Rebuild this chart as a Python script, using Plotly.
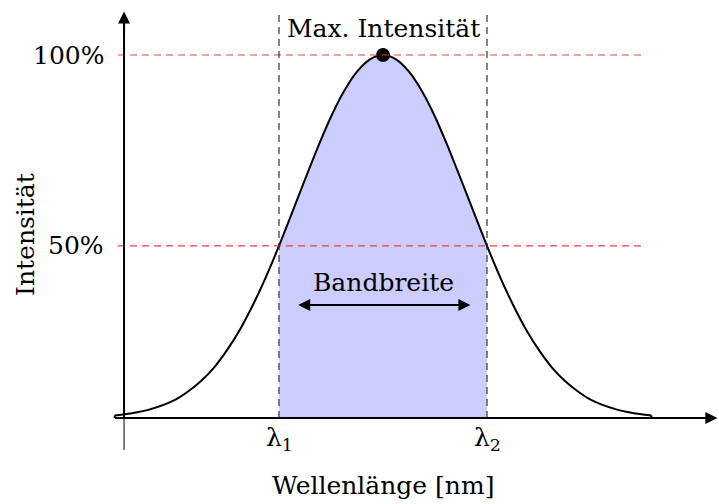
import plotly.graph_objects as go

# Data; x in units where lambda1=-1, lambda2=+1, peak at 0
wavelength = [-2.58, -2.4, -2.25, -2.0, -1.875, -1.75, -1.625, -1.5, -1.375, -1.25, -1.125,
              -1.0, -0.875, -0.75, -0.625, -0.5, -0.375, -0.25, -0.125, 0.0,
              0.125, 0.25, 0.375, 0.5, 0.625, 0.75, 0.875, 1.0,
              1.125, 1.25, 1.375, 1.5, 1.625, 1.75, 1.875, 2.0, 2.25, 2.4, 2.58]
intensity = [0.007, 0.014, 0.023, 0.050, 0.073, 0.102, 0.139, 0.187, 0.244, 0.312, 0.389,
             0.474, 0.565, 0.657, 0.747, 0.830, 0.900, 0.954, 0.988, 1.0,
             0.988, 0.954, 0.900, 0.830, 0.747, 0.657, 0.565, 0.474,
             0.389, 0.312, 0.244, 0.187, 0.139, 0.102, 0.073, 0.050, 0.023, 0.014, 0.007]
lambda1, lambda2 = -1.0, 1.0
peak_x, peak_y = 0.0, 1.0
half_level = 0.474
tick_vals = [1.0, half_level]
tick_text = ["100%", "50%"]
x_labels = ["λ<sub>1</sub>", "λ<sub>2</sub>"]

FONT = "DejaVu Serif"
FS = 25

band_x = [x for x in wavelength if lambda1 <= x <= lambda2]
band_y = [y for x, y in zip(wavelength, intensity) if lambda1 <= x <= lambda2]

fig = go.Figure()
# filled band
fig.add_trace(go.Scatter(x=band_x, y=band_y, mode="lines",
                         line=dict(color="rgba(0,0,0,0)", shape="spline", smoothing=0.8),
                         fill="tozeroy", fillcolor="#ccccff", hoverinfo="skip", showlegend=False))
# curve
fig.add_trace(go.Scatter(x=wavelength, y=intensity, mode="lines",
                         line=dict(color="black", width=2, shape="spline", smoothing=0.8),
                         hoverinfo="skip", showlegend=False))
# closing ends of the curve down to the baseline
for i in (0, -1):
    fig.add_trace(go.Scatter(x=[wavelength[i], wavelength[i]], y=[intensity[i], 0], mode="lines",
                             line=dict(color="black", width=2), hoverinfo="skip", showlegend=False))
# peak marker
fig.add_trace(go.Scatter(x=[peak_x], y=[peak_y], mode="markers",
                         marker=dict(color="black", size=14), showlegend=False))

x_min, x_max = -3.6827, 3.2308
y_min, y_max = -0.2369, 1.1515
yaxis_x = -2.49
top_y = 1.116

shapes = []
# red dashed horizontal lines
for v in tick_vals:
    shapes.append(dict(type="line", x0=-2.548, x1=2.519, y0=v, y1=v,
                       line=dict(color="#ee4040", width=1.2, dash="7px,5px")))
# black dashed vertical lines
for lx in (lambda1, lambda2):
    shapes.append(dict(type="line", x0=lx, x1=lx, y0=0, y1=top_y,
                       line=dict(color="#222222", width=1.1, dash="7px,5px")))
# axes
shapes.append(dict(type="line", x0=yaxis_x, x1=yaxis_x, y0=-0.088, y1=0,
                   line=dict(color="black", width=1)))
shapes.append(dict(type="line", x0=-2.577, x1=3.19, y0=0, y1=0,
                   line=dict(color="black", width=2)))
shapes.append(dict(type="line", x0=yaxis_x, x1=yaxis_x, y0=0, y1=1.10,
                   line=dict(color="black", width=2)))

annotations = []
# axis arrows
annotations.append(dict(x=yaxis_x, y=1.12, ax=yaxis_x, ay=1.05, xref="x", yref="y", axref="x", ayref="y",
                        showarrow=True, arrowhead=2, arrowsize=1.2, arrowwidth=2, arrowcolor="black", text=""))
annotations.append(dict(x=3.215, y=0, ax=3.1, ay=0, xref="x", yref="y", axref="x", ayref="y",
                        showarrow=True, arrowhead=2, arrowsize=1.2, arrowwidth=2, arrowcolor="black", text=""))
# bandwidth double arrow
annotations.append(dict(x=0.84, y=0.311, ax=-0.83, ay=0.311, xref="x", yref="y", axref="x", ayref="y",
                        showarrow=True, arrowhead=2, startarrowhead=2, arrowside="end+start",
                        arrowsize=1.2, arrowwidth=2, arrowcolor="black", text=""))
# tick labels
for v, t in zip(tick_vals, tick_text):
    annotations.append(dict(x=-2.663, y=v, text=t, showarrow=False, xanchor="right", yanchor="middle",
                            font=dict(family=FONT, size=FS, color="black")))
for lx, t in zip((lambda1, lambda2), x_labels):
    annotations.append(dict(x=lx, y=-0.058, text=t, showarrow=False, xanchor="center", yanchor="middle",
                            font=dict(family=FONT, size=FS, color="black")))
# texts
annotations.append(dict(x=0, y=-0.185, text="Wellenlänge [nm]", showarrow=False,
                        font=dict(family=FONT, size=FS, color="black")))
annotations.append(dict(x=-3.433, y=0.507, text="Intensität", showarrow=False, textangle=-90,
                        font=dict(family=FONT, size=FS, color="black")))
annotations.append(dict(x=0, y=1.074, text="Max. Intensität", showarrow=False,
                        font=dict(family=FONT, size=FS, color="black")))
annotations.append(dict(x=0, y=0.372, text="Bandbreite", showarrow=False,
                        font=dict(family=FONT, size=FS, color="black")))

fig.update_layout(
    width=719, height=504, margin=dict(l=0, r=0, t=0, b=0),
    paper_bgcolor="white", plot_bgcolor="white",
    xaxis=dict(range=[x_min, x_max], visible=False, fixedrange=True),
    yaxis=dict(range=[y_min, y_max], visible=False, fixedrange=True),
    shapes=shapes, annotations=annotations, showlegend=False,
)
fig.write_html("out.html")
